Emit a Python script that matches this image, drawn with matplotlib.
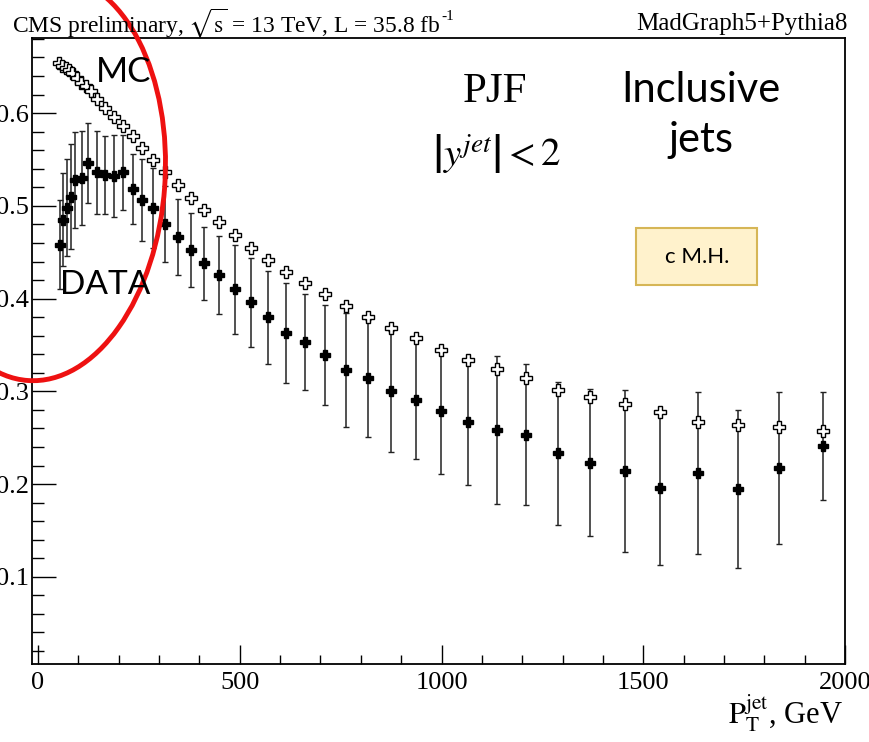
import matplotlib
matplotlib.use("Agg")
import matplotlib.pyplot as plt
from matplotlib.patches import Ellipse, Rectangle
from matplotlib.transforms import IdentityTransform
from matplotlib.ticker import MultipleLocator

plt.rcParams['font.family'] = ['Liberation Serif', 'DejaVu Serif']
plt.rcParams['mathtext.fontset'] = 'stix'

# DATA: pT bin centres, mean value and error
pt_data = [54, 62, 72, 82, 92, 108, 125, 145, 166, 188,
           211, 235, 258.5, 286, 315, 346, 378.5, 412.5, 449, 487.5,
           527.5, 570, 615, 662, 711.5, 763.5, 818, 875.5, 936, 999.5,
           1066.5, 1136.5, 1210, 1287.5, 1368.5, 1453.5, 1542.5, 1636, 1734, 1837,
           1945]
val_data = [0.458, 0.485, 0.498, 0.510, 0.528, 0.530, 0.546, 0.536, 0.533, 0.532,
            0.536, 0.518, 0.506, 0.498, 0.480, 0.466, 0.452, 0.438, 0.425, 0.410,
            0.396, 0.380, 0.363, 0.353, 0.339, 0.323, 0.314, 0.300, 0.291, 0.279,
            0.267, 0.258, 0.253, 0.233, 0.223, 0.214, 0.196, 0.212, 0.195, 0.217,
            0.241]
err_data = [0.048, 0.050, 0.052, 0.057, 0.052, 0.051, 0.043, 0.045, 0.042, 0.044,
            0.040, 0.038, 0.044, 0.043, 0.041, 0.041, 0.040, 0.039, 0.042, 0.048,
            0.048, 0.050, 0.054, 0.052, 0.054, 0.061, 0.063, 0.065, 0.064, 0.068,
            0.068, 0.080, 0.076, 0.077, 0.079, 0.087, 0.083, 0.087, 0.085, 0.082,
            0.058]

# MC (MadGraph5+Pythia8)
pt_mc = [52, 60, 69, 77, 85, 96, 107, 118, 130,
         145, 166, 188, 211, 235, 258.5, 286, 315, 346, 378.5,
         412.5, 449, 487.5, 527.5, 570, 615, 662, 711.5, 763.5, 818,
         875.5, 936, 999.5, 1066.5, 1136.5, 1210, 1287.5, 1368.5, 1453.5, 1542.5,
         1636, 1734, 1837, 1945]
val_mc = [0.654, 0.651, 0.649, 0.646, 0.643, 0.638, 0.633, 0.629, 0.624,
          0.615, 0.605, 0.596, 0.586, 0.575, 0.562, 0.549, 0.536, 0.523, 0.509,
          0.496, 0.483, 0.469, 0.455, 0.442, 0.429, 0.417, 0.405, 0.392, 0.380,
          0.368, 0.357, 0.345, 0.334, 0.324, 0.314, 0.301, 0.294, 0.286, 0.278,
          0.267, 0.264, 0.262, 0.257]

W, H = 869, 742


def fx(x):
    return x / W


def fy(y):
    return 1 - y / H


fig = plt.figure(figsize=(W / 100, H / 100), dpi=100)
ax = fig.add_axes([fx(32), fy(664), fx(845) - fx(32), fy(38) - fy(664)])

ax.errorbar(pt_data, val_data, yerr=err_data, fmt='P', color='black', ms=6.5,
            ecolor='#222222', elinewidth=1.1, capsize=2, capthick=1, zorder=3)
ax.plot(pt_mc, val_mc, 'P', mfc='white', mec='black', mew=1, ms=8.5, ls='none', zorder=4)

ax.set_xlim(-15, 2000)
ax.set_ylim(0.006, 0.681)
ax.xaxis.set_major_locator(MultipleLocator(500))
ax.xaxis.set_minor_locator(MultipleLocator(100))
ax.yaxis.set_major_locator(MultipleLocator(0.1))
ax.yaxis.set_minor_locator(MultipleLocator(0.02))
ax.tick_params(which='both', direction='in', top=False, right=False, width=1, labelsize=19)
ax.tick_params(axis='y', which='major', length=17, pad=2)
ax.tick_params(axis='y', which='minor', length=8.5)
ax.tick_params(axis='x', which='major', length=13.5, pad=6)
ax.tick_params(axis='x', which='minor', length=6.7)
for s in ax.spines.values():
    s.set_linewidth(1.3)

# header
fig.text(fx(12), fy(24), r"CMS preliminary, $\sqrt{\mathrm{s}}$ = 13 TeV, L = 35.8 fb",
         fontsize=16.9, va='center', ha='left')
fig.text(fx(441), fy(16), "-1", fontsize=11, va='center', ha='left')
fig.text(fx(848), fy(24), "MadGraph5+Pythia8", fontsize=18, va='center', ha='right')

# x label
fig.text(fx(843), fy(714), r"$\mathrm{P_T^{jet}}$, GeV", fontsize=22, ha='right', va='center')

# annotations
fig.text(fx(495), fy(92), "PJF", fontsize=31, ha='center', va='center')
fig.text(fx(497), fy(155), r"$\left|y^{jet}\right| < 2$", fontsize=28, ha='center', va='center')
fig.text(fx(701), fy(90), "Inclusive", family='Lato', fontsize=30, ha='center', va='center')
fig.text(fx(701), fy(140), "jets", family='Lato', fontsize=30, ha='center', va='center')
fig.text(fx(124), fy(72), "MC", family='Lato', fontsize=25, ha='center', va='center')
fig.text(fx(105), fy(285), "DATA", family='Lato', fontsize=24, ha='center', va='center')

box = Rectangle((fx(636), fy(285)), fx(757) - fx(636), fy(228) - fy(285),
                transform=fig.transFigure, facecolor='#fff2cc', edgecolor='#d6b656', lw=1.5)
fig.add_artist(box)
fig.text(fx(697), fy(257), "c M.H.", family='Lato', fontsize=16, ha='center', va='center')

ring = Ellipse((42, H - 178), width=246, height=406, angle=-4, transform=IdentityTransform(),
               fill=False, edgecolor='#ee1111', lw=3.5, clip_on=False)
fig.add_artist(ring)

fig.savefig("out.png", dpi=100)
